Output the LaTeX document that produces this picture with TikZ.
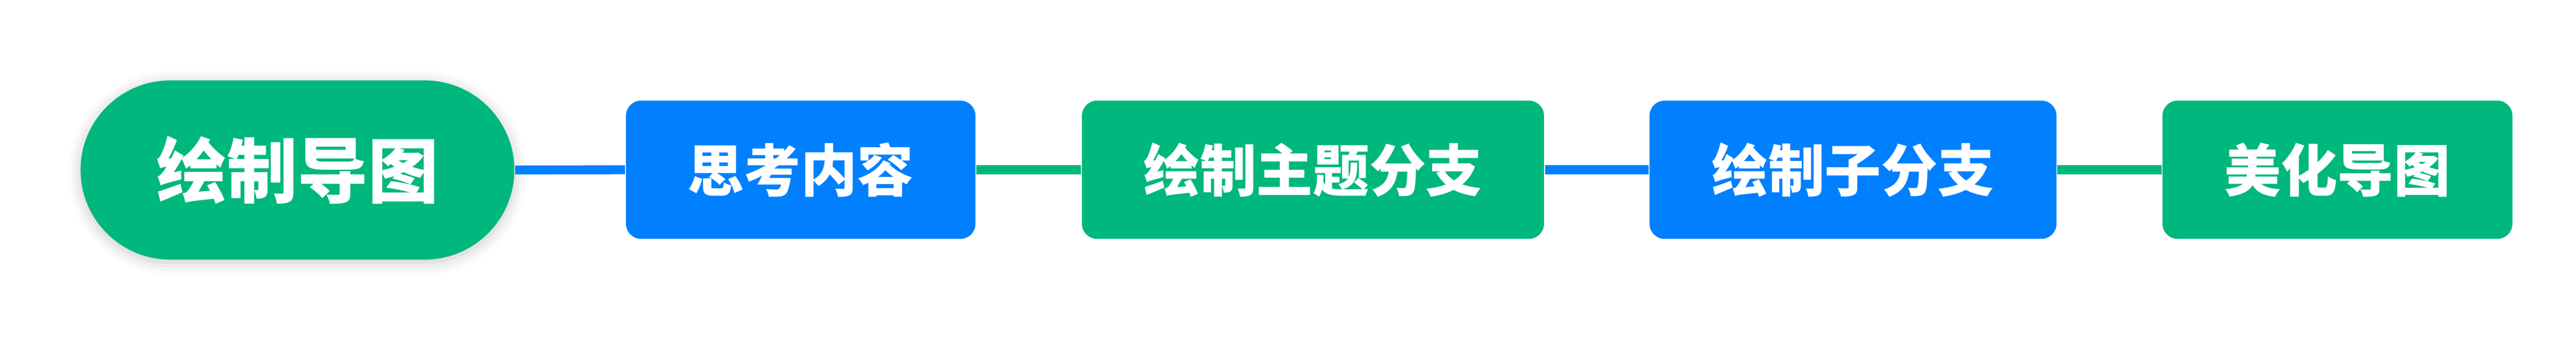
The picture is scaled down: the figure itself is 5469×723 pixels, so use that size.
\documentclass[tikz,border=0pt]{standalone}
\usepackage{fontspec}
\newfontfamily\cjk{Noto Sans CJK SC}
\usetikzlibrary{shadows.blur}
\definecolor{mgreen}{HTML}{00B77E}
\definecolor{mblue}{HTML}{0080FF}
\tikzset{
  rootbox/.style={fill=mgreen, text=white, rounded corners=19.05pt,
    minimum width=92.1pt, minimum height=38.1pt, inner sep=0pt,
    font=\cjk\bfseries\fontsize{15pt}{18pt}\selectfont,
    blur shadow={shadow xshift=0pt, shadow yshift=-0.6pt, shadow blur radius=2.6pt, shadow opacity=22}},
  stepbox/.style={text=white, rounded corners=3.2pt,
    minimum height=29.4pt, inner sep=0pt,
    font=\cjk\bfseries\fontsize{12pt}{14pt}\selectfont},
  bluebox/.style={stepbox, fill=mblue},
  greenbox/.style={stepbox, fill=mgreen},
  link/.style={line width=1.9pt}
}
\begin{document}
\begin{tikzpicture}[x=0.1pt,y=-0.1pt]
\useasboundingbox (0,0) rectangle (5469,723);
\node[rootbox] (root) at (631.5,361.5) {绘制导图};
\node[bluebox, minimum width=74.2pt] (b1) at (1700,361) {思考内容};
\node[greenbox, minimum width=98.1pt] (b2) at (2787.5,361) {绘制主题分支};
\node[bluebox, minimum width=86.4pt] (b3) at (3934,361) {绘制子分支};
\node[greenbox, minimum width=74.3pt] (b4) at (4962.5,361) {美化导图};
\draw[link, mblue] (root.east) -- (b1.west);
\draw[link, mgreen] (b1.east) -- (b2.west);
\draw[link, mblue] (b2.east) -- (b3.west);
\draw[link, mgreen] (b3.east) -- (b4.west);
\end{tikzpicture}
\end{document}
